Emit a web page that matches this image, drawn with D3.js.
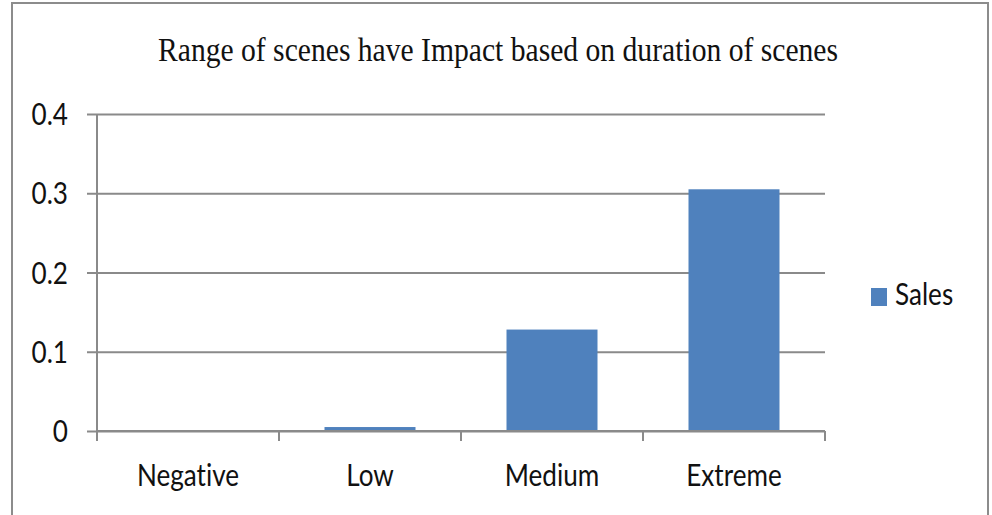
<!DOCTYPE html>
<html>
<head>
<meta charset="utf-8">
<script src="https://cdn.jsdelivr.net/npm/d3@7"></script>
<style>
  html, body { margin: 0; padding: 0; background: #fff; }
  svg { display: block; }
  text { font-variant-ligatures: none; font-feature-settings: "liga" 0; }
</style>
</head>
<body>
<svg id="chart" width="992" height="515"></svg>
<script>
const categories = ["Negative", "Low", "Medium", "Extreme"];
const salesValues = [0, 0.005, 0.128, 0.305];
const yTicks = [0, 0.1, 0.2, 0.3, 0.4];
const yTickLabels = ["0", "0.1", "0.2", "0.3", "0.4"];
const seriesName = "Sales";
const titleText = "Range of scenes have Impact based on duration of scenes";

const svg = d3.select("#chart");
const plot = { left: 97, right: 825, top: 114, bottom: 431 };
const barColor = "#4F81BD";
const gridColor = "#8a8a8a";
const labelFont = "Lato, 'Open Sans', sans-serif";

// outer border
svg.append("rect")
  .attr("x", 12).attr("y", 3).attr("width", 976).attr("height", 520)
  .attr("fill", "#fff").attr("stroke", "#8c8c8c").attr("stroke-width", 2);

const x = d3.scaleBand().domain(categories).range([plot.left, plot.right]).paddingInner(0.5).paddingOuter(0.25);
const y = d3.scaleLinear().domain([0, 0.4]).range([plot.bottom, plot.top]);

// gridlines
const yAxis = d3.axisLeft(y).tickValues(yTicks)
  .tickSize(-(plot.right - plot.left)).tickFormat("");
const gy = svg.append("g").attr("transform", `translate(${plot.left},0)`).call(yAxis);
gy.select(".domain").remove();
gy.selectAll(".tick line").attr("stroke", gridColor).attr("stroke-width", 2)
  .attr("x1", -10);

// y tick labels
svg.append("g").selectAll("text").data(yTicks).join("text")
  .attr("class", "sq")
  .attr("x", 68).attr("y", d => y(d) + 11)
  .attr("text-anchor", "end")
  .attr("font-family", labelFont)
  .attr("font-size", 30)
  .attr("fill", "#111")
  .text((d, i) => yTickLabels[i]);

// y axis line
svg.append("line")
  .attr("x1", plot.left).attr("x2", plot.left)
  .attr("y1", y(0.4)).attr("y2", plot.bottom + 10)
  .attr("stroke", gridColor).attr("stroke-width", 2);

// bars
svg.append("g").selectAll("rect").data(categories).join("rect")
  .attr("x", d => x(d))
  .attr("width", x.bandwidth())
  .attr("y", (d, i) => y(salesValues[i]))
  .attr("height", (d, i) => y(0) - y(salesValues[i]))
  .attr("fill", barColor);

// x axis
svg.append("line")
  .attr("x1", plot.left).attr("x2", plot.right)
  .attr("y1", y(0)).attr("y2", y(0))
  .attr("stroke", gridColor).attr("stroke-width", 2);
const step = x.step();
const boundaries = d3.range(categories.length + 1).map(i => plot.left + i * step);
svg.append("g").selectAll("line").data(boundaries).join("line")
  .attr("x1", d => d).attr("x2", d => d)
  .attr("y1", y(0)).attr("y2", y(0) + 10)
  .attr("stroke", gridColor).attr("stroke-width", 2);

// x labels
svg.append("g").selectAll("text").data(categories).join("text")
  .attr("class", "sq")
  .attr("x", d => x(d) + x.bandwidth() / 2)
  .attr("y", 486)
  .attr("text-anchor", "middle")
  .attr("font-family", labelFont)
  .attr("font-size", 30)
  .attr("fill", "#111")
  .text(d => d);

// title
svg.append("text")
  .attr("x", 498).attr("y", 61)
  .attr("text-anchor", "middle")
  .attr("font-family", "'Liberation Serif', 'Times New Roman', serif")
  .attr("font-size", 33)
  .attr("fill", "#111")
  .attr("textLength", 680).attr("lengthAdjust", "spacingAndGlyphs")
  .text(titleText);

// legend
svg.append("rect").attr("x", 871).attr("y", 288).attr("width", 16).attr("height", 18).attr("fill", barColor);
svg.append("text")
  .attr("class", "sq")
  .attr("x", 895).attr("y", 305)
  .attr("font-family", labelFont)
  .attr("font-size", 30)
  .attr("fill", "#111")
  .text(seriesName);

// horizontal compression of Calibri-like labels
svg.selectAll("text.sq").each(function() {
  const w = this.getComputedTextLength();
  d3.select(this).attr("textLength", w * 0.87).attr("lengthAdjust", "spacingAndGlyphs");
});
</script>
</body>
</html>
